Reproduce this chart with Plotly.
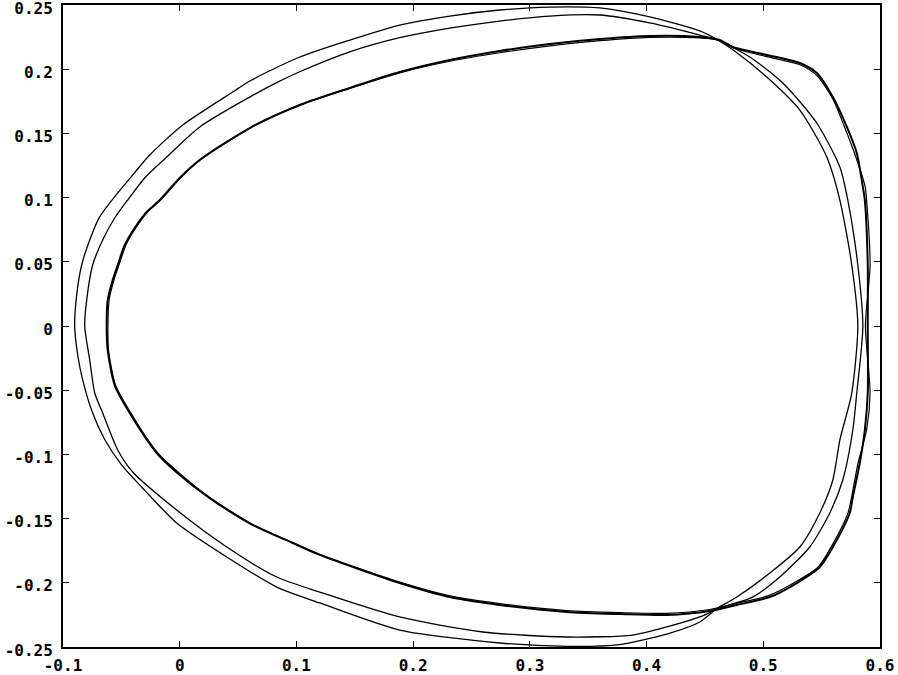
import plotly.graph_objects as go

# --- traced loops (x, y values) ---
# outermost thin loop
a_x = [-0.090, -0.0883, -0.084, -0.0771, -0.0686, -0.0555, -0.0403, -0.0257, 0.0026, 0.0454,
       0.060, 0.1028, 0.1457, 0.1885, 0.2314, 0.2742, 0.3171, 0.3599, 0.4027, 0.4456,
       0.461, 0.4799, 0.503, 0.5313, 0.5544, 0.5656, 0.5758, 0.581, 0.5758, 0.5656,
       0.5596, 0.5484, 0.5313, 0.5056, 0.4773, 0.461, 0.4456, 0.4173, 0.3745, 0.3316,
       0.2742, 0.1885, 0.12, 0.0831, 0.0403, -0.0026, -0.030, -0.050, -0.0645, -0.0746,
       -0.0831, -0.0874, -0.090]
a_y = [0.0, 0.0241, 0.0475, 0.067, 0.085, 0.101, 0.1176, 0.1332, 0.1565, 0.1822,
       0.1908, 0.2095, 0.2227, 0.2344, 0.2414, 0.2461, 0.2484, 0.2477, 0.2407, 0.2298,
       0.2227, 0.2111, 0.1939, 0.1682, 0.1316, 0.0981, 0.0475, 0.0, -0.0522, -0.0888,
       -0.1199, -0.1456, -0.1721, -0.1924, -0.2111, -0.2196, -0.2305, -0.2399, -0.2484, -0.2495,
       -0.2469, -0.2368, -0.2157, -0.2033, -0.1799, -0.1534, -0.128, -0.108, -0.088, -0.0678,
       -0.0421, -0.0226, 0.0]

# second thin loop
b_x = [-0.0814, -0.0797, -0.0746, -0.066, -0.0557, -0.0446, -0.030, -0.0111, 0.0171, 0.060,
       0.0831, 0.1028, 0.1457, 0.1885, 0.2314, 0.2742, 0.3171, 0.3599, 0.4027, 0.4456,
       0.461, 0.4884, 0.5167, 0.5458, 0.5656, 0.5724, 0.581, 0.5853, 0.5801, 0.5767,
       0.5681, 0.557, 0.5398, 0.5141, 0.491, 0.4627, 0.4456, 0.4173, 0.3882, 0.3316,
       0.2596, 0.1885, 0.12, 0.0831, 0.0403, -0.0026, -0.0403, -0.0531, -0.066, -0.0728,
       -0.0771, -0.0814]
b_y = [0.0, 0.0202, 0.0475, 0.067, 0.0841, 0.0981, 0.1153, 0.1316, 0.155, 0.1783,
       0.1895, 0.198, 0.2135, 0.2245, 0.232, 0.2375, 0.2414, 0.2422, 0.236, 0.2266,
       0.2227, 0.2095, 0.1893, 0.1581, 0.1238, 0.0981, 0.0475, 0.0, -0.0522, -0.081,
       -0.1199, -0.1456, -0.1721, -0.1955, -0.2111, -0.2196, -0.2266, -0.2344, -0.2407, -0.2422,
       -0.2383, -0.2266, -0.2072, -0.1955, -0.1721, -0.1433, -0.1137, -0.0966, -0.0678, -0.0522,
       -0.0265, 0.0]

# inner-left / outer-right loop (heavy)
c_x = [-0.0626, -0.0617, -0.0574, -0.0531, -0.0471, -0.0386, -0.0283, -0.0171, 0.0, 0.0171,
       0.060, 0.1028, 0.1457, 0.1885, 0.2314, 0.2742, 0.3171, 0.3599, 0.4027, 0.4456,
       0.4627, 0.4739, 0.503, 0.5313, 0.5458, 0.5596, 0.5716, 0.5801, 0.5853, 0.587,
       0.5895, 0.5895, 0.5895, 0.587, 0.5827, 0.5767, 0.5741, 0.563, 0.5484, 0.5287,
       0.5056, 0.4773, 0.4542, 0.4173, 0.377, 0.3316, 0.2742, 0.2314, 0.1885, 0.12,
       0.0968, 0.0626, 0.0257, 0.0, -0.0197, -0.0428, -0.0557, -0.0617, -0.0626]
c_y = [0.0, 0.0202, 0.0358, 0.0475, 0.0631, 0.0763, 0.0888, 0.0981, 0.1153, 0.1293,
       0.1542, 0.1721, 0.1854, 0.1978, 0.2072, 0.2142, 0.2196, 0.2235, 0.2259, 0.2251,
       0.2227, 0.2173, 0.2111, 0.2048, 0.197, 0.1783, 0.155, 0.1347, 0.1083, 0.0981,
       0.0475, 0.0, -0.0522, -0.081, -0.1067, -0.1332, -0.1456, -0.1667, -0.1877, -0.2002,
       -0.2111, -0.2173, -0.222, -0.2251, -0.2243, -0.2227, -0.2173, -0.2111, -0.2002, -0.1783,
       -0.169, -0.155, -0.134, -0.116, -0.0989, -0.0678, -0.046, -0.0187, 0.0]

# companion loop running next to the heavy one
d_x = [-0.0615, -0.0605, -0.0563, -0.052, -0.046, -0.0375, -0.0272, -0.016, 0.001, 0.018,
       0.061, 0.1035, 0.146, 0.1885, 0.2314, 0.2742, 0.3171, 0.3599, 0.4027, 0.4456,
       0.4627, 0.4745, 0.503, 0.5313, 0.5458, 0.5596, 0.5696, 0.5781, 0.5873, 0.5885,
       0.5915, 0.5875, 0.5915, 0.5885, 0.5812, 0.5757, 0.5726, 0.5615, 0.547, 0.5275,
       0.5045, 0.4773, 0.4542, 0.4173, 0.377, 0.3316, 0.2742, 0.2314, 0.1885, 0.12,
       0.0968, 0.0626, 0.0257, 0.001, -0.019, -0.042, -0.055, -0.061, -0.0615]
d_y = [0.0, 0.0202, 0.036, 0.0477, 0.0633, 0.0765, 0.089, 0.0984, 0.1156, 0.1296,
       0.1545, 0.1722, 0.1852, 0.1972, 0.2062, 0.2128, 0.2182, 0.2222, 0.2248, 0.2244,
       0.2225, 0.2165, 0.2098, 0.2035, 0.1952, 0.1768, 0.155, 0.1347, 0.1083, 0.0981,
       0.0475, 0.0, -0.0522, -0.081, -0.1067, -0.1332, -0.1456, -0.1667, -0.1877, -0.1994,
       -0.210, -0.216, -0.2208, -0.2238, -0.2232, -0.2216, -0.2162, -0.2102, -0.1995, -0.1778,
       -0.1686, -0.1546, -0.1336, -0.1157, -0.0987, -0.0677, -0.046, -0.0187, 0.0]

x_ticks = [-0.1, 0, 0.1, 0.2, 0.3, 0.4, 0.5, 0.6]
x_labels = ["-0.1", "0", "0.1", "0.2", "0.3", "0.4", "0.5", "0.6"]
y_ticks = [0.25, 0.2, 0.15, 0.1, 0.05, 0, -0.05, -0.1, -0.15, -0.2, -0.25]
y_labels = ["0.25", "0.2", "0.15", "0.1", "0.05", "0", "-0.05", "-0.1", "-0.15", "-0.2", "-0.25"]

fig = go.Figure()
for xs, ys, w in [(a_x, a_y, 1.3), (b_x, b_y, 1.3), (c_x, c_y, 2.0), (d_x, d_y, 1.2)]:
    fig.add_trace(go.Scatter(
        x=xs, y=ys, mode="lines",
        line=dict(color="black", width=w, shape="spline", smoothing=0.7),
        showlegend=False, hoverinfo="skip", cliponaxis=False
    ))

axis_common = dict(
    showgrid=False, zeroline=False, automargin=False,
    showline=True, linecolor="black", linewidth=2, mirror="ticks",
    ticks="inside", ticklen=6, tickcolor="black", tickwidth=1,
    ticklabeloverflow="allow",
    tickfont=dict(family="DejaVu Sans Mono", size=16, color="black", weight="bold"),
)

fig.update_layout(
    width=898, height=675,
    plot_bgcolor="white", paper_bgcolor="white",
    margin=dict(l=63, r=18, t=5, b=28),
    xaxis=dict(range=[-0.1, 0.6], tickvals=x_ticks, ticktext=x_labels,
               ticklabelstandoff=3, **axis_common),
    # labels sit a few px below their ticks in the original
    yaxis=dict(range=[-0.25, 0.25], tickvals=y_ticks, ticktext=y_labels,
               ticklabelstandoff=5, ticklabelshift=3, **axis_common),
)

# page body has a default margin; drop it so the figure sits at the top-left corner
fig.write_html("out.html", config={"displayModeBar": False},
               post_script="document.body.style.margin='0';")
